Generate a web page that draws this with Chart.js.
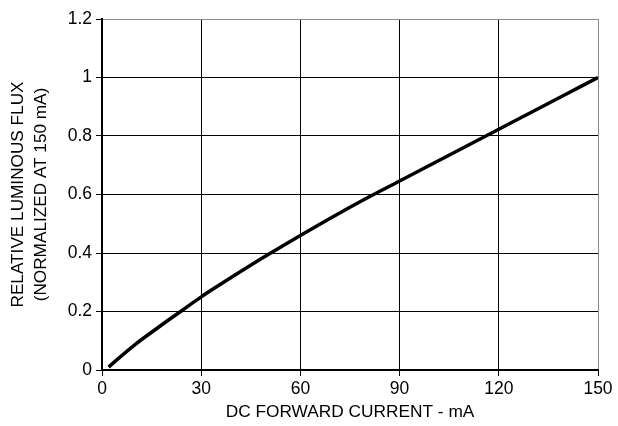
<!DOCTYPE html>
<html lang="en">
<head>
    <meta charset="UTF-8">
    <title>Relative Luminous Flux vs DC Forward Current</title>
    <script src="https://cdn.jsdelivr.net/npm/chart.js"></script>
    <style>
        body {
            margin: 0;
            background: #fff;
        }
        #wrap {
            width: 618px;
            height: 426px;
        }
    </style>
</head>
<body>
    <div id="wrap">
        <canvas id="fluxChart" width="618" height="426"></canvas>
    </div>
    <script>
        // values
        const currentMa = [2, 5, 10, 15, 20, 25, 30, 35, 40, 50, 60, 70, 80, 90, 100, 110, 120, 130, 140, 150];
        const relFlux = [0.01, 0.04, 0.087, 0.129, 0.17, 0.21, 0.25, 0.287, 0.323, 0.393, 0.46, 0.525, 0.587, 0.646, 0.705, 0.764, 0.823, 0.882, 0.941, 1.0];

        const xTicks = [0, 30, 60, 90, 120, 150];
        const yTicks = [0, 0.2, 0.4, 0.6, 0.8, 1, 1.2];

        const xTitle = 'DC FORWARD CURRENT - mA';
        const yTitle = ['RELATIVE LUMINOUS FLUX', '(NORMALIZED AT 150 mA)'];

        const fontFamily = '"Liberation Sans", Arial, sans-serif';
        const points = currentMa.map((x, i) => ({ x: x, y: relFlux[i] }));

        new Chart(document.getElementById('fluxChart'), {
            type: 'line',
            data: {
                datasets: [{
                    data: points,
                    borderColor: '#000',
                    borderWidth: 3.5,
                    pointRadius: 0,
                    fill: false,
                    cubicInterpolationMode: 'monotone'
                }]
            },
            options: {
                responsive: false,
                animation: false,
                layout: { padding: { top: 19, right: 20, left: 0, bottom: 0 } },
                plugins: {
                    legend: { display: false },
                    tooltip: { enabled: false }
                },
                scales: {
                    x: {
                        type: 'linear',
                        min: xTicks[0],
                        max: xTicks[xTicks.length - 1],
                        afterBuildTicks: s => { s.ticks = xTicks.map(v => ({ value: v })); },
                        afterFit: s => { s.height = 56; },
                        grid: {
                            color: c => (c.tick && c.tick.value === 150) ? '#8a8a8a' : '#000',
                            lineWidth: 1,
                            tickLength: 6,
                            tickColor: '#000'
                        },
                        border: { color: '#000', width: 2 },
                        ticks: {
                            color: '#000',
                            padding: 3,
                            font: { family: fontFamily, size: 17.5 }
                        },
                        title: {
                            display: true,
                            text: xTitle,
                            color: '#000',
                            font: { family: fontFamily, size: 17.3 },
                            padding: { top: 0, bottom: 3 }
                        }
                    },
                    y: {
                        type: 'linear',
                        min: yTicks[0],
                        max: yTicks[yTicks.length - 1],
                        afterBuildTicks: s => { s.ticks = yTicks.map(v => ({ value: v })); },
                        afterFit: s => { s.width = 102; },
                        grid: {
                            color: c => (c.index === yTicks.length - 1) ? '#8a8a8a' : '#000',
                            lineWidth: 1,
                            tickLength: 6,
                            tickColor: '#000'
                        },
                        border: { color: '#000', width: 2 },
                        ticks: {
                            color: '#000',
                            padding: 4,
                            font: { family: fontFamily, size: 17.5 },
                            callback: v => String(+v.toFixed(1))
                        },
                        title: {
                            display: true,
                            text: yTitle,
                            color: '#000',
                            font: { family: fontFamily, size: 17.2, lineHeight: 1.33 },
                            padding: { top: 7, bottom: 0 }
                        }
                    }
                }
            }
        });
    </script>
</body>
</html>
